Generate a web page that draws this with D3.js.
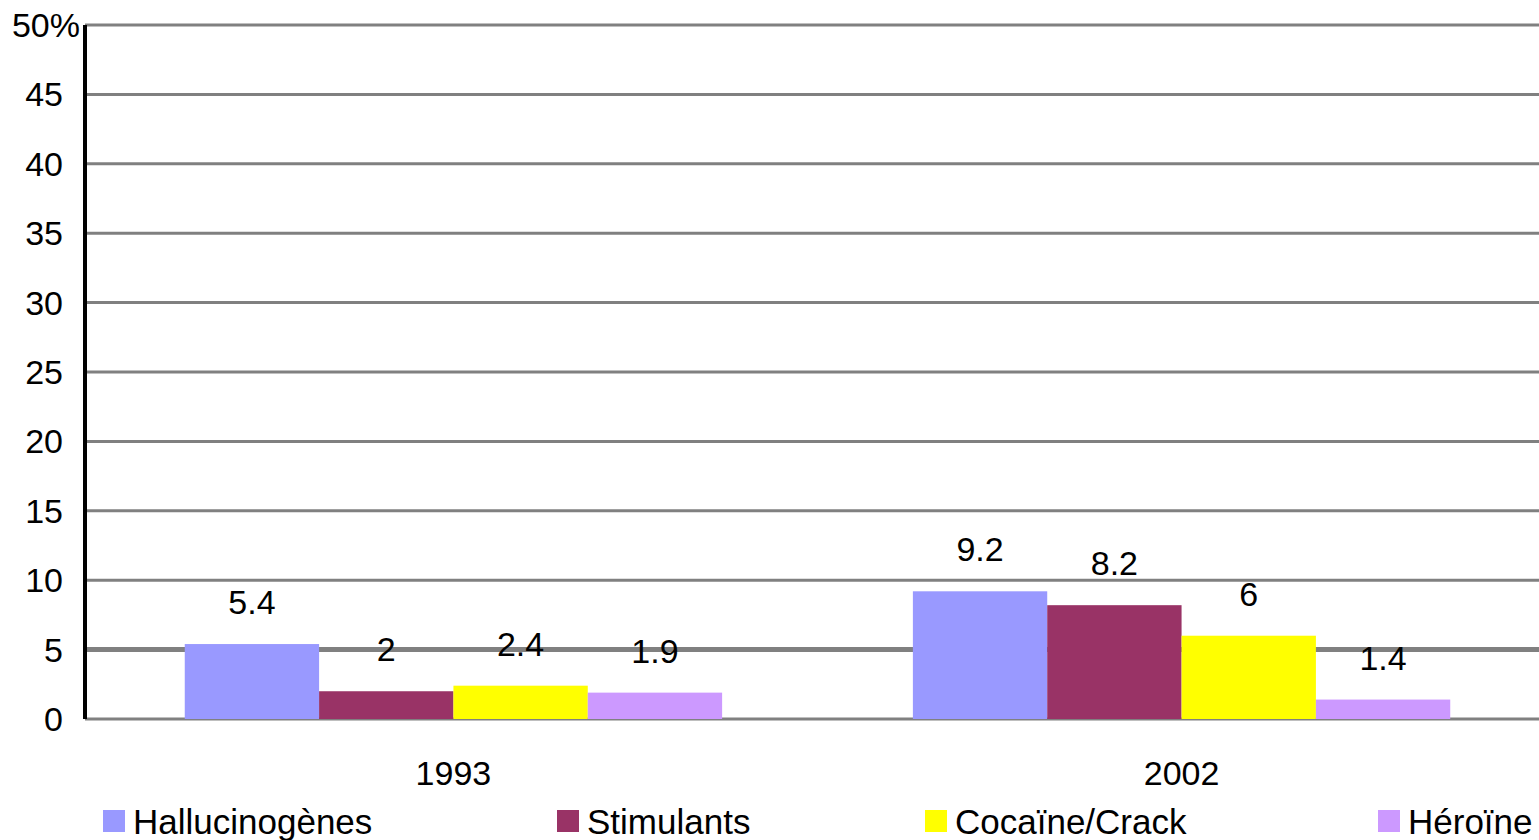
<!DOCTYPE html>
<html>
<head>
<meta charset="utf-8">
<script src="https://cdn.jsdelivr.net/npm/d3@7"></script>
<style>
  body { margin: 0; background: #fff; }
  text { font-family: "Liberation Sans", Arial, sans-serif; fill: #000; }
</style>
</head>
<body>
<div id="chart"></div>
<script>
// data
var years = ["1993", "2002"];
var drugs = ["Hallucinogènes", "Stimulants", "Cocaïne/Crack", "Héroïne"];
var colors = ["#9999ff", "#993366", "#ffff00", "#cc99ff"];
var values1993 = [5.4, 2, 2.4, 1.9];
var values2002 = [9.2, 8.2, 6, 1.4];
var yTicks = [0, 5, 10, 15, 20, 25, 30, 35, 40, 45, 50];

var W = 1539, H = 840;
var margin = { top: 25, right: 0, bottom: 121, left: 85 },
    width = W - margin.left - margin.right,
    height = H - margin.top - margin.bottom;

var svg = d3.select("#chart")
    .append("svg")
    .attr("width", W)
    .attr("height", H)
    .append("g")
    .attr("transform", "translate(" + margin.left + "," + margin.top + ")");

var data = years.map(function (y, i) {
    var vals = i === 0 ? values1993 : values2002;
    return { year: y, vals: drugs.map(function (d, j) { return { drug: d, value: vals[j], idx: j }; }) };
});

var x0 = d3.scaleBand().domain(years).range([0, 1465]).paddingInner(0.262).paddingOuter(0.137);
var x1 = d3.scaleBand().domain(drugs).range([0, x0.bandwidth()]);
var y = d3.scaleLinear().domain([0, 50]).range([height, 0]);

// gridlines
svg.append("g")
    .selectAll("line")
    .data(yTicks)
    .enter()
    .append("line")
    .attr("x1", 0)
    .attr("x2", width)
    .attr("y1", function (d) { return y(d); })
    .attr("y2", function (d) { return y(d); })
    .attr("stroke", "#808080")
    .attr("stroke-width", function (d) { return d === 5 ? 5 : 3; });

// y tick labels
svg.append("g")
    .selectAll("text")
    .data(yTicks)
    .enter()
    .append("text")
    .attr("x", function (d) { return d === 50 ? -5 : -22; })
    .attr("y", function (d) { return y(d) + 12; })
    .attr("text-anchor", "end")
    .style("font-size", "34px")
    .text(function (d) { return d === 50 ? "50%" : d; });

// bars
var groups = svg.append("g")
    .selectAll("g")
    .data(data)
    .enter()
    .append("g")
    .attr("transform", function (d) { return "translate(" + x0(d.year) + ",0)"; });

groups.selectAll("rect")
    .data(function (d) { return d.vals; })
    .enter()
    .append("rect")
    .attr("x", function (d) { return x1(d.drug); })
    .attr("width", x1.bandwidth())
    .attr("y", function (d) { return y(d.value); })
    .attr("height", function (d) { return height - y(d.value); })
    .attr("fill", function (d) { return colors[d.idx]; });

groups.selectAll("text")
    .data(function (d) { return d.vals; })
    .enter()
    .append("text")
    .attr("x", function (d) { return x1(d.drug) + x1.bandwidth() / 2; })
    .attr("y", function (d) { return y(d.value) - 30; })
    .attr("text-anchor", "middle")
    .style("font-size", "34px")
    .text(function (d) { return d.value; });

// y axis line
svg.append("line")
    .attr("x1", 0).attr("x2", 0)
    .attr("y1", 0).attr("y2", height)
    .attr("stroke", "#000")
    .attr("stroke-width", 4);

// x labels
svg.append("g")
    .selectAll("text")
    .data(years)
    .enter()
    .append("text")
    .attr("x", function (d) { return x0(d) + x0.bandwidth() / 2; })
    .attr("y", height + 66)
    .attr("text-anchor", "middle")
    .style("font-size", "34px")
    .text(function (d) { return d; });

// legend
var legendX = [103, 557, 925, 1378];
var legend = d3.select("svg").append("g")
    .selectAll("g")
    .data(drugs)
    .enter()
    .append("g")
    .attr("transform", function (d, i) { return "translate(" + legendX[i] + ",810)"; });

legend.append("rect")
    .attr("width", 22)
    .attr("height", 22)
    .attr("y", 0)
    .attr("fill", function (d, i) { return colors[i]; });

legend.append("text")
    .attr("x", 30)
    .attr("y", 24)
    .style("font-size", "35px")
    .text(function (d) { return d; });
</script>
</body>
</html>
